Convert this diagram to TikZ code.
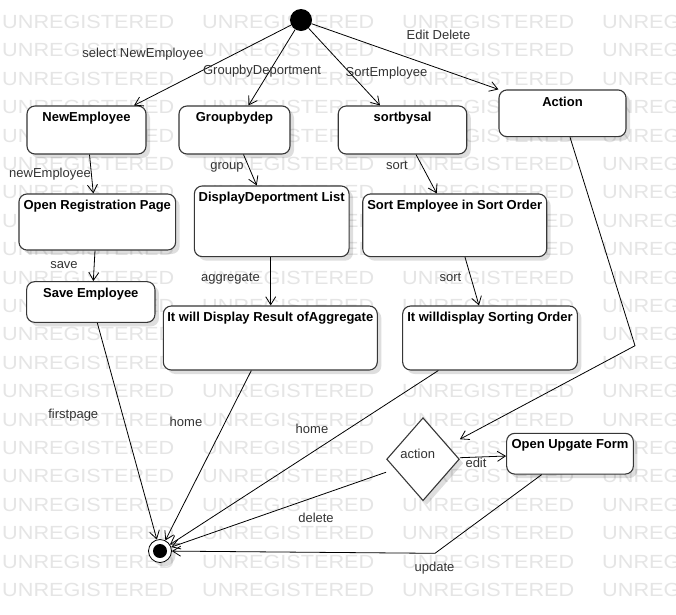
\documentclass[tikz,border=0pt]{standalone}
\usepackage{fontspec}
\setmainfont{Liberation Sans}
\usetikzlibrary{arrows.meta,shapes.geometric,shadows}
\definecolor{wm}{RGB}{229,229,229}
\definecolor{lbl}{RGB}{51,51,51}
\definecolor{bd}{RGB}{55,55,55}
\begin{document}
\begin{tikzpicture}[x=1pt,y=-1pt,font=\fontsize{13}{15}\selectfont,
  shd/.style={drop shadow={shadow xshift=4pt,shadow yshift=-4pt,opacity=0.13,fill=black}},
  box/.style={draw=bd,line width=1.1pt,rounded corners=8pt,fill=white,inner sep=0pt,shd},
  ttl/.style={font=\fontsize{13}{15}\selectfont\bfseries,inner sep=0pt},
  lab/.style={text=lbl,inner sep=0pt},
  arr/.style={draw=black,line width=0.8pt,-{Straight Barb[length=8pt,width=10pt]}},
  wmtext/.style={anchor=west,inner sep=0pt,text=wm,font=\fontsize{19}{19}\selectfont,xscale=1.14}]
\useasboundingbox (0,0) rectangle (676,614);
\fill[white] (0,0) rectangle (676,614);
% watermark
\begin{scope}
\clip (0,0) rectangle (676,614);
\foreach \k in {0,...,20}{
  \foreach \j in {0,...,3}{
    \node[wmtext] (wm-\k-\j) at ({2+200*\j},{22+28.4*\k}) {UNREGISTERED};
  }
}
\end{scope}
% start / end
\node[circle,fill=black,minimum size=22pt,inner sep=0pt] (init) at (301,20) {};
\node[circle,draw=black,line width=0.8pt,fill=white,minimum size=23pt,inner sep=0pt,shd] (final) at (160,551) {};
\node[circle,fill=black,minimum size=14pt,inner sep=0pt] (finalin) at (final) {};
% boxes
\node[box,minimum width=119pt,minimum height=48pt] (newemp) at (86.5,130) {};
\node[box,minimum width=111pt,minimum height=48pt] (groupdep) at (234.5,130) {};
\node[box,minimum width=128.5pt,minimum height=48pt] (sortbysal) at (402.5,130) {};
\node[box,minimum width=127pt,minimum height=46.7pt] (action) at (562.5,113.3) {};
\node[box,minimum width=156.7pt,minimum height=56pt] (openreg) at (97.3,222) {};
\node[box,minimum width=154.7pt,minimum height=70.7pt] (displaydep) at (271.7,221.3) {};
\node[box,minimum width=184pt,minimum height=62.7pt] (sortemp) at (454.7,225.3) {};
\node[box,minimum width=128.3pt,minimum height=40.7pt] (saveemp) at (90.8,302) {};
\node[box,minimum width=214pt,minimum height=64pt] (result) at (270.3,338) {};
\node[box,minimum width=174.7pt,minimum height=64pt] (sorting) at (490,338) {};
\node[box,minimum width=126.7pt,minimum height=40.7pt] (upgate) at (570,453.7) {};
\node[diamond,aspect=0.876,draw=bd,line width=1.1pt,fill=white,minimum width=72.7pt,minimum height=83pt,inner sep=0pt,shd] (dec) at (423,459.2) {};
% titles
\node[ttl] (t-newemp) at ([yshift=-12.7pt]newemp.north) {NewEmployee};
\node[ttl] (t-groupdep) at ([yshift=-12.7pt]groupdep.north) {Groupbydep};
\node[ttl] (t-sortbysal) at ([yshift=-12.7pt]sortbysal.north) {sortbysal};
\node[ttl] (t-action) at ([yshift=-12.7pt]action.north) {Action};
\node[ttl] (t-openreg) at ([yshift=-12.7pt]openreg.north) {Open Registration Page};
\node[ttl] (t-displaydep) at ([yshift=-12.7pt]displaydep.north) {DisplayDeportment List};
\node[ttl] (t-sortemp) at ([yshift=-12.7pt]sortemp.north) {Sort Employee in Sort Order};
\node[ttl] (t-saveemp) at ([yshift=-12.7pt]saveemp.north) {Save Employee};
\node[ttl] (t-result) at ([yshift=-12.7pt]result.north) {It will Display Result ofAggregate};
\node[ttl] (t-sorting) at ([yshift=-12.7pt]sorting.north) {It willdisplay Sorting Order};
\node[ttl] (t-upgate) at ([yshift=-12.7pt]upgate.north) {Open Upgate Form};
\node[lab] (t-dec) at (417.7,454.3) {action};
% connectors
\draw[arr] (init) -- ([xshift=47.5pt]newemp.north);
\draw[arr] (init) -- ([xshift=14pt]groupdep.north);
\draw[arr] (init) -- ([xshift=-22.5pt]sortbysal.north);
\draw[arr] (init) -- (action.north west);
\draw[arr] ([xshift=3pt]newemp.south) -- ([xshift=-4pt]openreg.north);
\draw[arr] ([xshift=9pt]groupdep.south) -- ([xshift=-15pt]displaydep.north);
\draw[arr] ([xshift=13.5pt]sortbysal.south) -- ([xshift=-18pt]sortemp.north);
\draw[arr] ([xshift=-2.3pt]openreg.south) -- ([xshift=2.5pt]saveemp.north);
\draw[arr] ([xshift=-1pt]displaydep.south) -- ([xshift=0.4pt]result.north);
\draw[arr] ([xshift=10.3pt]sortemp.south) -- ([xshift=-11pt]sorting.north);
\draw[arr] ([xshift=6.5pt]saveemp.south) -- (final);
\draw[arr] ([xshift=-19pt]result.south) -- (final);
\draw[arr] ([xshift=-51.7pt]sorting.south) -- (final);
\draw[arr] ([yshift=-13pt]dec.west) -- (final);
\draw[arr] ([yshift=1.5pt]dec.east) -- ([yshift=-2.3pt]upgate.west);
\coordinate (bend1) at (635,345.7);
\draw[arr] ([xshift=7.5pt]action.south) -- (bend1) -- ([yshift=20pt]dec.east);
\coordinate (bend2) at (435,553.3);
\draw[arr] ([xshift=-28.3pt]upgate.south) -- (bend2) -- (final);
% labels
\node[lab] (l-sel) at (143,54) {select NewEmployee};
\node[lab] (l-grp) at (262,71) {GroupbyDeportment};
\node[lab] (l-srt) at (386.5,73) {SortEmployee};
\node[lab] (l-ed) at (438.5,35) {Edit Delete};
\node[lab] (l-new) at (50,174) {newEmployee};
\node[lab] (l-group) at (227,167.7) {group};
\node[lab] (l-sort1) at (397,165) {sort};
\node[lab] (l-save) at (64,265) {save};
\node[lab] (l-agg) at (230.5,279) {aggregate};
\node[lab] (l-sort2) at (450.5,277.3) {sort};
\node[lab] (l-first) at (73.3,415) {firstpage};
\node[lab] (l-home1) at (186,421.7) {home};
\node[lab] (l-home2) at (312,429) {home};
\node[lab] (l-del) at (316,518.3) {delete};
\node[lab] (l-edit) at (476,463.3) {edit};
\node[lab] (l-upd) at (434.5,568.3) {update};
\end{tikzpicture}
\end{document}
